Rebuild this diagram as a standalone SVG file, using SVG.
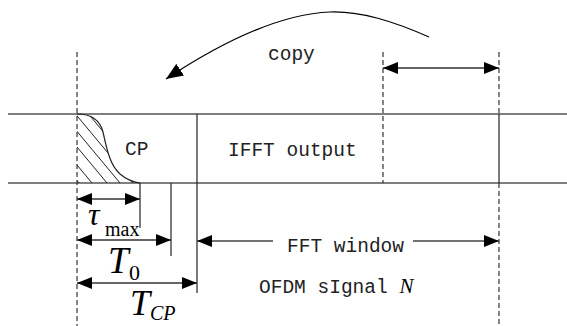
<svg xmlns="http://www.w3.org/2000/svg" width="567" height="326" viewBox="0 0 567 326">
<style>
.band{stroke:#555;stroke-width:1.5;fill:none}
.solid{stroke:#222;stroke-width:1.2;fill:none}
.dash{stroke:#333;stroke-width:1.2;stroke-dasharray:5,3;fill:none}
.arr{stroke:#333;stroke-width:1.4;fill:none;marker-start:url(#ah);marker-end:url(#ah)}
.mono{font-family:"Liberation Mono","DejaVu Sans Mono",monospace;font-size:19.5px;fill:#222}
.math{font-family:"Liberation Serif","Times New Roman",serif;font-style:italic;fill:#000}
.rm{font-family:"Liberation Serif","Times New Roman",serif;fill:#000}
.hatch{stroke:#222;stroke-width:1}
</style>
<defs>
<marker id="ah" markerUnits="userSpaceOnUse" markerWidth="15" markerHeight="12" refX="15" refY="6" orient="auto-start-reverse">
<path d="M0,0 L15,6 L0,12 Z" fill="#000"/>
</marker>
<marker id="big" markerUnits="userSpaceOnUse" markerWidth="17" markerHeight="14" refX="17" refY="7" orient="auto">
<path d="M0,0 L17,7 L0,14 Z" fill="#000"/>
</marker>
<clipPath id="cpclip">
<path d="M77,114 C92,114 100,120 103,132 C107,150 110,165 120,174 C127,180 133,182 140,183 L77,183 Z"/>
</clipPath>
</defs>

<g id="band">
<line class="band" x1="8" y1="114" x2="567" y2="114"/>
<line class="band" x1="8" y1="183" x2="567" y2="183"/>
</g>

<g id="cp-region">
<g clip-path="url(#cpclip)">
<line class="hatch" x1="-1" y1="87" x2="79" y2="183"/>
<line class="hatch" x1="12" y1="87" x2="92" y2="183"/>
<line class="hatch" x1="27" y1="87" x2="107" y2="183"/>
<line class="hatch" x1="40" y1="87" x2="120" y2="183"/>
<line class="hatch" x1="53" y1="87" x2="133" y2="183"/>
<line class="hatch" x1="66" y1="87" x2="146" y2="183"/>
<line class="hatch" x1="79" y1="87" x2="159" y2="183"/>
<line class="hatch" x1="92" y1="87" x2="172" y2="183"/>
<line class="hatch" x1="105" y1="87" x2="185" y2="183"/>
</g>
<path class="solid" d="M77,114 C92,114 100,120 103,132 C107,150 110,165 120,174 C127,180 133,182 140,183"/>
<text class="mono" x="125" y="155">CP</text>
</g>

<g id="ifft">
<text class="mono" x="228" y="156">IFFT output</text>
</g>

<g id="markers">
<line class="dash" x1="77" y1="52" x2="77" y2="326"/>
<line class="solid" x1="197" y1="114" x2="197" y2="293"/>
<line class="dash" x1="383" y1="52" x2="383" y2="183"/>
<line class="dash" x1="499" y1="52" x2="499" y2="114"/>
<line class="solid" x1="499" y1="114" x2="499" y2="183"/>
<line class="dash" x1="499" y1="183" x2="499" y2="324"/>
<line class="solid" x1="140" y1="183" x2="140" y2="228"/>
<line class="solid" x1="171" y1="183" x2="171" y2="256"/>
</g>

<g id="connectors">
<path d="M429,37 C395,22 362,11 330,12 C280,14 225,40 166,79" stroke="#000" stroke-width="1.2" fill="none" marker-end="url(#big)"/>
<line class="arr" x1="383" y1="68" x2="499" y2="68"/>
<line class="arr" x1="77" y1="199" x2="140" y2="199"/>
<line class="arr" x1="77" y1="240" x2="171" y2="240"/>
<line class="arr" x1="77" y1="283" x2="197" y2="283"/>
<line stroke="#444" stroke-width="1.4" x1="197" y1="241" x2="273" y2="241" marker-start="url(#ah)"/>
<line stroke="#444" stroke-width="1.4" x1="413" y1="241" x2="499" y2="241" marker-end="url(#ah)"/>
</g>

<g id="labels">
<text class="mono" x="268" y="60">copy</text>
<text class="mono" x="287" y="252">FFT window</text>
<text class="mono" x="259" y="293">OFDM sIgnal <tspan class="math" font-size="21">N</tspan></text>
<text class="math" x="88" y="225" font-size="32">τ</text>
<text class="rm" x="105" y="236" font-size="20">max</text>
<text class="math" x="108" y="273" font-size="37">T</text>
<text class="rm" x="129" y="280" font-size="22">0</text>
<text class="math" x="130" y="315" font-size="36">T</text>
<text class="math" x="150" y="320" font-size="20">CP</text>
</g>
</svg>
